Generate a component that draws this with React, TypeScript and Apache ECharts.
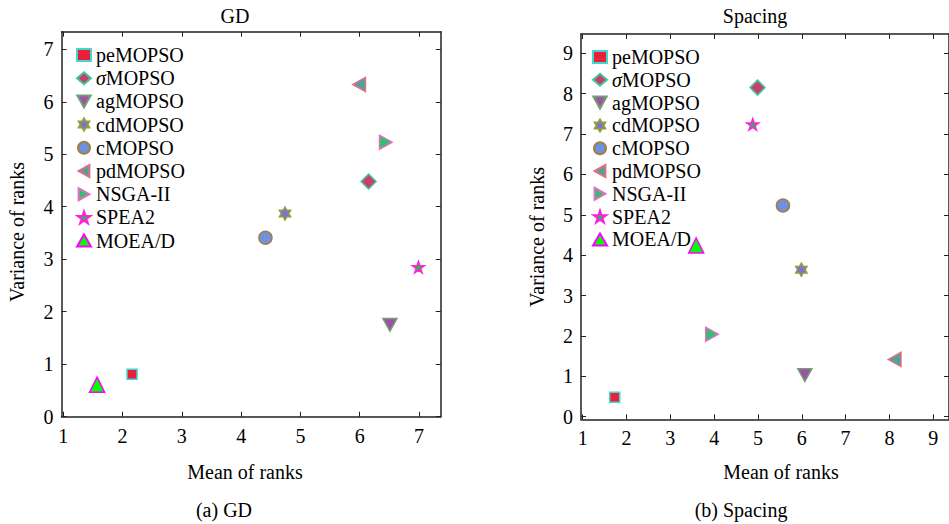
import React, { useEffect, useRef } from "react";
import * as echarts from "echarts";

const methods = ["peMOPSO", "σMOPSO", "agMOPSO", "cdMOPSO", "cMOPSO", "pdMOPSO", "NSGA-II", "SPEA2", "MOEA/D"];
const gdMean = [2.16, 6.15, 6.51, 4.74, 4.41, 5.99, 6.44, 6.99, 1.57];
const gdVar = [0.81, 4.48, 1.75, 3.87, 3.41, 6.33, 5.23, 2.85, 0.61];
const spMean = [1.73, 4.99, 6.07, 5.99, 5.57, 8.12, 3.95, 4.88, 3.59];
const spVar = [0.48, 8.15, 1.03, 3.64, 5.23, 1.42, 2.04, 7.24, 4.24];
const gdXTicks = [1, 2, 3, 4, 5, 6, 7];
const gdYTicks = [0, 1, 2, 3, 4, 5, 6, 7];
const spXTicks = [1, 2, 3, 4, 5, 6, 7, 8, 9];
const spYTicks = [0, 1, 2, 3, 4, 5, 6, 7, 8, 9];

const FONT = "'Liberation Serif', 'Times New Roman', serif";

const symbols = [
  "rect",
  "diamond",
  "path://M0,0 L10,0 L5,9 Z",
  "path://M10,0 L12.885,5.003 L18.66,5 L15.77,10 L18.66,15 L12.885,14.997 L10,20 L7.115,14.997 L1.34,15 L4.23,10 L1.34,5 L7.115,5.003 Z",
  "circle",
  "path://M9,0 L9,10 L0,5 Z",
  "path://M0,0 L0,10 L9,5 Z",
  "path://M10,0 L12.245,6.91 L19.511,6.91 L13.633,11.18 L15.878,18.09 L10,13.82 L4.122,18.09 L6.367,11.18 L0.489,6.91 L7.755,6.91 Z",
  "triangle",
];
const sizes = [10, 15, 14, 13, 13, 14, 14, 12, 15];
const fills = ["#e8203c", "#c8406a", "#a050a8", "#8070d0", "#7090e0", "#50a0a0", "#30c070", "#20c040", "#00ff00"];
const borders = ["#40d8c8", "#40c8a0", "#70a070", "#90a040", "#a08040", "#e07080", "#e070c0", "#ff20e0", "#ff00ff"];

function App() {
  const ref = useRef<HTMLDivElement>(null);
  useEffect(() => {
    if (!ref.current) return;
    const chart = echarts.init(ref.current, null, { renderer: "svg" });

    const line = { show: true, onZero: false, lineStyle: { color: "#222", width: 1.5 } };
    const tick = (ticks: number[]) => ({ show: true, inside: true, length: 5, customValues: ticks, lineStyle: { color: "#222" } });
    const label = (ticks: number[], margin: number) => ({
      show: true, customValues: ticks, margin, color: "#000", fontFamily: FONT, fontSize: 20,
      formatter: (v: number) => (Number.isInteger(v) ? String(v) : ""),
    });

    const mkX = (grid: number, min: number, max: number, ticks: number[]) => [
      { type: "value", gridIndex: grid, position: "bottom", min, max, axisLine: line, axisTick: tick(ticks), axisLabel: label(ticks, 9), splitLine: { show: false } },
      { type: "value", gridIndex: grid, position: "top", min, max, axisLine: line, axisTick: tick(ticks), axisLabel: { show: false }, splitLine: { show: false } },
    ];
    const mkY = (grid: number, min: number, max: number, ticks: number[]) => [
      { type: "value", gridIndex: grid, position: "left", min, max, axisLine: line, axisTick: tick(ticks), axisLabel: label(ticks, 8), splitLine: { show: false } },
      { type: "value", gridIndex: grid, position: "right", min, max, axisLine: line, axisTick: tick(ticks), axisLabel: { show: false }, splitLine: { show: false } },
    ];

    const mkSeries = (xIdx: number, yIdx: number, xs: number[], ys: number[]) =>
      methods.map((m, i) => ({
        type: "scatter",
        name: m,
        xAxisIndex: xIdx,
        yAxisIndex: yIdx,
        symbol: symbols[i],
        symbolSize: sizes[i],
        symbolKeepAspect: true,
        itemStyle: { color: fills[i], borderColor: borders[i], borderWidth: 1.5, opacity: 1 },
        data: [[xs[i], ys[i]]],
        emphasis: { disabled: true },
      }));

    const legendBase = {
      orient: "vertical",
      data: methods,
      itemWidth: 14,
      itemHeight: 12,
      padding: 0,
      selectedMode: false,
      textStyle: {
        fontFamily: FONT, fontSize: 20, color: "#000",
        rich: {
          s: { fontFamily: FONT, fontSize: 20, fontStyle: "italic", color: "#000" },
          n: { fontFamily: FONT, fontSize: 20, color: "#000" },
        },
      },
      formatter: (name: string) => (name === "σMOPSO" ? "{s|σ}{n|MOPSO}" : name),
    };

    const txt = (x: number, y: number, text: string, rotation = 0) => ({
      type: "text", x, y, rotation,
      style: { text, fontFamily: FONT, fontSize: 20, fill: "#000", textAlign: "center", textVerticalAlign: "middle" },
    });

    chart.setOption({
      animation: false,
      backgroundColor: "#fff",
      grid: [
        { left: 61.5, top: 31.7, width: 379.2, height: 385, show: false },
        { left: 581, top: 34, width: 370, height: 385.3, show: false },
      ],
      xAxis: [...mkX(0, 0.97, 7.366, gdXTicks), ...mkX(1, 0.961, 9.36, spXTicks)],
      yAxis: [...mkY(0, 0, 7.335, gdYTicks), ...mkY(1, -0.064, 9.478, spYTicks)],
      legend: [
        { ...legendBase, left: 76, top: 45, itemGap: 3.2 },
        { ...legendBase, left: 592, top: 47, itemGap: 2.8 },
      ],
      series: [...mkSeries(0, 0, gdMean, gdVar), ...mkSeries(2, 2, spMean, spVar)],
      graphic: [
        txt(235, 16, "GD"),
        txt(755, 16, "Spacing"),
        txt(245, 472, "Mean of ranks"),
        txt(781, 472, "Mean of ranks"),
        txt(224, 510, "(a) GD"),
        txt(741, 510, "(b) Spacing"),
        txt(17, 232, "Variance of ranks", Math.PI / 2),
        txt(537, 237, "Variance of ranks", Math.PI / 2),
      ],
    });
    return () => chart.dispose();
  }, []);
  return <div ref={ref} style={{ position: "fixed", left: 0, top: 0, width: 949, height: 524, background: "#fff" }} />;
}

export default App;
